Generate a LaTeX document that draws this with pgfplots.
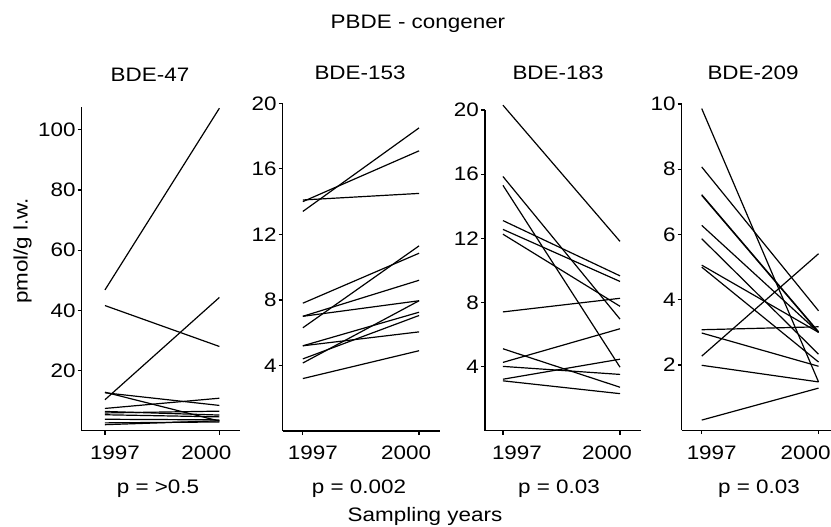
\documentclass[border=0pt]{standalone}
\usepackage{fontspec}
\setmainfont[FakeStretch=1.15]{Liberation Sans}
\usepackage{pgfplots}
\pgfplotsset{compat=1.18}

\newcommand{\lab}{\fontsize{19.5}{23}\selectfont}

\pgfplotsset{
  seg/.style={black, solid, line width=1.2pt, mark=none},
  panel/.style={
    scale only axis, anchor=south west, clip=false,
    axis x line*=bottom, axis y line*=left,
    xtick={1997,2000},
    xticklabels={\hspace*{20pt}1997, 2000\hspace*{26pt}},
    tick align=outside, major tick length=4pt,
    axis line style={line width=1.2pt, black},
    tick style={line width=1.2pt, black},
    ticklabel style={font=\lab},
    yticklabel style={inner sep=2pt},
    xticklabel style={inner sep=0pt, yshift=-11pt},
    /pgf/number format/assume math mode=true,
  },
}

\begin{document}
\begin{tikzpicture}

% BDE-47
\begin{axis}[panel, at={(81.7pt,-430.7pt)}, width=158.3pt, height=324pt,
  xmin=1996.39, xmax=2000.54, ymin=0, ymax=107.7, ytick={20,40,60,80,100}]
\addplot[seg] coordinates {(1997,46.8) (2000,107.2)};
\addplot[seg] coordinates {(1997,41.6) (2000,28.0)};
\addplot[seg] coordinates {(1997,10.3) (2000,44.3)};
\addplot[seg] coordinates {(1997,12.8) (2000,3.2)};
\addplot[seg] coordinates {(1997,12.6) (2000,8.4)};
\addplot[seg] coordinates {(1997,7.4) (2000,10.8)};
\addplot[seg] coordinates {(1997,5.9) (2000,6.5)};
\addplot[seg] coordinates {(1997,6.4) (2000,5.2)};
\addplot[seg] coordinates {(1997,5.3) (2000,4.6)};
\addplot[seg] coordinates {(1997,3.8) (2000,3.6)};
\addplot[seg] coordinates {(1997,2.6) (2000,2.9)};
\addplot[seg] coordinates {(1997,2.0) (2000,3.3)};
\end{axis}

% BDE-153
\begin{axis}[panel, at={(282.7pt,-431pt)}, width=157.3pt, height=327.7pt,
  xmin=1996.48, xmax=2000.54, ymin=0, ymax=20, ytick={4,8,12,16,20}]
\addplot[seg] coordinates {(1997,13.4) (2000,18.5)};
\addplot[seg] coordinates {(1997,14.0) (2000,17.1)};
\addplot[seg] coordinates {(1997,14.1) (2000,14.5)};
\addplot[seg] coordinates {(1997,6.3) (2000,11.3)};
\addplot[seg] coordinates {(1997,7.8) (2000,10.85)};
\addplot[seg] coordinates {(1997,7.0) (2000,9.2)};
\addplot[seg] coordinates {(1997,7.0) (2000,7.95)};
\addplot[seg] coordinates {(1997,4.15) (2000,7.95)};
\addplot[seg] coordinates {(1997,5.2) (2000,7.25)};
\addplot[seg] coordinates {(1997,4.4) (2000,7.05)};
\addplot[seg] coordinates {(1997,5.2) (2000,6.05)};
\addplot[seg] coordinates {(1997,3.2) (2000,4.9)};
\end{axis}

% BDE-183
\begin{axis}[panel, at={(485pt,-430.5pt)}, width=155.7pt, height=320.5pt,
  xmin=1996.54, xmax=2000.53, ymin=0, ymax=20, ytick={4,8,12,16,20},
  xticklabels={\hspace*{28pt}1997, 2000\hspace*{26pt}}]
\addplot[seg] coordinates {(1997,20.3) (2000,11.8)};
\addplot[seg] coordinates {(1997,15.85) (2000,6.95)};
\addplot[seg] coordinates {(1997,15.3) (2000,3.95)};
\addplot[seg] coordinates {(1997,13.1) (2000,9.65)};
\addplot[seg] coordinates {(1997,12.55) (2000,9.3)};
\addplot[seg] coordinates {(1997,12.25) (2000,7.75)};
\addplot[seg] coordinates {(1997,7.4) (2000,8.25)};
\addplot[seg] coordinates {(1997,4.25) (2000,6.35)};
\addplot[seg] coordinates {(1997,5.1) (2000,2.7)};
\addplot[seg] coordinates {(1997,4.0) (2000,3.5)};
\addplot[seg] coordinates {(1997,3.2) (2000,4.45)};
\addplot[seg] coordinates {(1997,3.1) (2000,2.3)};
\end{axis}

% BDE-209
\begin{axis}[panel, at={(681.7pt,-430.2pt)}, width=160.2pt, height=326.2pt,
  xmin=1996.486, xmax=2000.6, ymin=0, ymax=10, ytick={2,4,6,8,10}]
\addplot[seg] coordinates {(1997,9.86) (2000,1.48)};
\addplot[seg] coordinates {(1997,8.07) (2000,3.66)};
\addplot[seg] coordinates {(1997,7.2) (2000,3.0)};
\addplot[seg] coordinates {(1997,7.22) (2000,3.02)};
\addplot[seg] coordinates {(1997,6.28) (2000,3.0)};
\addplot[seg] coordinates {(1997,5.87) (2000,2.33)};
\addplot[seg] coordinates {(1997,5.06) (2000,3.0)};
\addplot[seg] coordinates {(1997,5.0) (2000,2.09)};
\addplot[seg] coordinates {(1997,2.27) (2000,5.41)};
\addplot[seg] coordinates {(1997,3.08) (2000,3.17)};
\addplot[seg] coordinates {(1997,2.98) (2000,1.96)};
\addplot[seg] coordinates {(1997,1.99) (2000,1.48)};
\addplot[seg] coordinates {(1997,0.31) (2000,1.29)};
\end{axis}

% titles and labels
\node[font=\lab, anchor=base] at (418pt,-29pt) {PBDE - congener};
\node[font=\lab, anchor=base] at (150pt,-81.7pt) {BDE-47};
\node[font=\lab, anchor=base] at (360pt,-80pt) {BDE-153};
\node[font=\lab, anchor=base] at (558pt,-80pt) {BDE-183};
\node[font=\lab, anchor=base] at (753pt,-79.5pt) {BDE-209};
\node[font=\lab, anchor=base] at (158pt,-493pt) {p = >0.5};
\node[font=\lab, anchor=base] at (359pt,-493pt) {p = 0.002};
\node[font=\lab, anchor=base] at (559pt,-493pt) {p = 0.03};
\node[font=\lab, anchor=base] at (759pt,-493pt) {p = 0.03};
\node[font=\lab, anchor=base] at (425pt,-521.5pt) {Sampling years};
\node[font=\lab, anchor=base, rotate=90] at (27.5pt,-251pt) {pmol/g l.w.};

\pgfresetboundingbox
\path (0pt,0pt) rectangle (831pt,-527pt);
\end{tikzpicture}
\end{document}
